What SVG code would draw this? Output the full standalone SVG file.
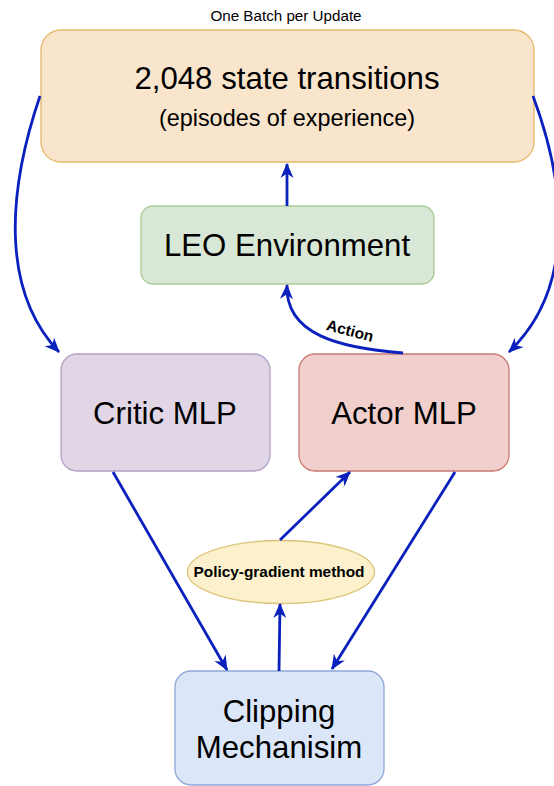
<svg xmlns="http://www.w3.org/2000/svg" width="554" height="786" viewBox="0 0 554 786">
<style>
.box{stroke-width:1.3}
.t{font-family:"Liberation Sans",Arial,Helvetica,sans-serif;fill:#000;text-anchor:middle}
.big{font-size:31.2px}
.b{font-weight:bold}
.edge{fill:none;stroke:#0a21bd;stroke-width:2.8;marker-end:url(#ah)}
</style>
<defs>
<marker id="ah" markerUnits="userSpaceOnUse" markerWidth="18" markerHeight="16" refX="14" refY="6.5" orient="auto" overflow="visible">
<path d="M0,0 L15,6.5 L0,13 L4.5,6.5 z" fill="#0a21bd"/>
</marker>
</defs>
<rect width="554" height="786" fill="#fff"/>
<text class="t" x="286" y="21" font-size="15.2">One Batch per Update</text>
<g id="batch">
<rect class="box" x="41" y="30" width="493" height="132" rx="20" fill="#f9e5cc" stroke="#e3b867"/>
<text class="t" x="287" y="89" font-size="31.2">2,048 state transitions</text>
<text class="t" x="287" y="126" font-size="23.4">(episodes of experience)</text>
</g>
<g id="env">
<rect class="box" x="141" y="206" width="293" height="78" rx="12" fill="#d9e7d6" stroke="#a9cc96"/>
<text class="t big" x="287" y="256">LEO Environment</text>
</g>
<g id="critic">
<rect class="box" x="61" y="354" width="209" height="117" rx="16" fill="#e0d6e6" stroke="#b4a0c4"/>
<text class="t big" x="165" y="424">Critic MLP</text>
</g>
<g id="actor">
<rect class="box" x="299" y="354" width="210" height="117" rx="16" fill="#f1cfcc" stroke="#c97a73"/>
<text class="t big" x="404" y="424">Actor MLP</text>
</g>
<g id="policy">
<ellipse class="box" cx="281" cy="572" rx="93.5" ry="31.5" fill="#fcf1cc" stroke="#dcc57a"/>
<text class="t b" x="279" y="577" font-size="15.4">Policy-gradient method</text>
</g>
<g id="clipping">
<rect class="box" x="175" y="671" width="209" height="114" rx="16" fill="#dbe6f8" stroke="#8fa8d6"/>
<text class="t big" x="279" y="722">Clipping</text>
<text class="t big" x="279" y="758">Mechanisim</text>
</g>
<g id="connectors">
<path class="edge" d="M287,206 L287,164"/>
<path class="edge" d="M40,96 C8,190 0,290 59,352"/>
<path class="edge" d="M533,96 C568,190 574,290 509,352"/>
<path class="edge" d="M403,353 C340,348 285,335 287,285"/>
<path class="edge" d="M113,472 L227,670"/>
<path class="edge" d="M455,472 L332,669"/>
<path class="edge" d="M279,671 L280,604"/>
<path class="edge" d="M280,540 L350,472"/>
<text class="t b" x="350" y="336" font-size="15.4" transform="rotate(15 350 331)">Action</text>
</g>
</svg>
